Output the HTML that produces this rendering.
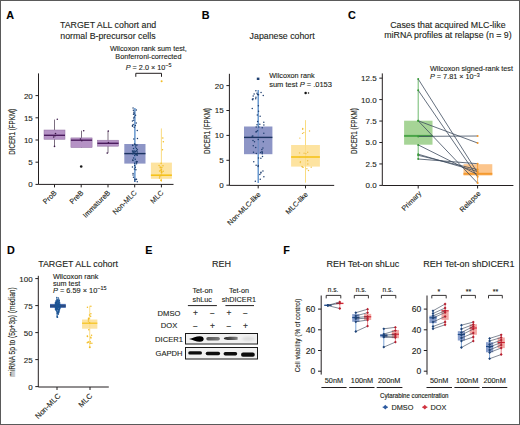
<!DOCTYPE html>
<html><head><meta charset="utf-8"><style>
html,body{margin:0;padding:0;background:#fff;width:520px;height:425px;overflow:hidden;}
svg{display:block;}
text{font-family:"Liberation Sans", sans-serif;stroke:#231f20;stroke-width:0.12px;}
</style></head><body>
<svg width="520" height="425" viewBox="0 0 520 425" font-family="&quot;Liberation Sans&quot;, sans-serif">
<rect x="0.00" y="0.00" width="520.00" height="425.00" fill="#ffffff" />
<text x="6.30" y="18.80" font-size="10.8" text-anchor="start" font-weight="bold" fill="#000" >A</text>
<text x="201.80" y="18.80" font-size="10.8" text-anchor="start" font-weight="bold" fill="#000" >B</text>
<text x="348.00" y="19.10" font-size="10.8" text-anchor="start" font-weight="bold" fill="#000" >C</text>
<text x="6.90" y="253.80" font-size="10.8" text-anchor="start" font-weight="bold" fill="#000" >D</text>
<text x="145.30" y="253.50" font-size="10.8" text-anchor="start" font-weight="bold" fill="#000" >E</text>
<text x="283.30" y="253.90" font-size="10.8" text-anchor="start" font-weight="bold" fill="#000" >F</text>
<text x="60.00" y="28.30" font-size="8.8" text-anchor="start" font-weight="normal" fill="#231f20" >TARGET ALL cohort and</text>
<text x="60.30" y="38.90" font-size="8.8" text-anchor="start" font-weight="normal" fill="#231f20" >normal B-precursor cells</text>
<text x="148.40" y="50.80" font-size="7.25" text-anchor="middle" font-weight="normal" fill="#231f20" >Wilcoxon rank sum test,</text>
<text x="148.40" y="59.40" font-size="7.25" text-anchor="middle" font-weight="normal" fill="#231f20" >Bonferroni-corrected</text>
<text x="148.6" y="69.5" font-size="7.25" text-anchor="middle" fill="#231f20"><tspan font-style="italic">P</tspan> = 2.0 × 10<tspan dy="-2.7" font-size="5.4">−5</tspan></text>
<path d="M135.8,76.8 V73.3 H161.5 V76.8" fill="none" stroke="#231f20" stroke-width="1"/>
<line x1="38.50" y1="73.40" x2="38.50" y2="184.40" stroke="#231f20" stroke-width="1" />
<line x1="35.50" y1="184.40" x2="38.50" y2="184.40" stroke="#231f20" stroke-width="1" />
<text x="32.80" y="187.36" font-size="8.0" text-anchor="end" font-weight="normal" fill="#231f20" >0</text>
<line x1="35.50" y1="162.20" x2="38.50" y2="162.20" stroke="#231f20" stroke-width="1" />
<text x="32.80" y="165.16" font-size="8.0" text-anchor="end" font-weight="normal" fill="#231f20" >5</text>
<line x1="35.50" y1="140.00" x2="38.50" y2="140.00" stroke="#231f20" stroke-width="1" />
<text x="32.80" y="142.96" font-size="8.0" text-anchor="end" font-weight="normal" fill="#231f20" >10</text>
<line x1="35.50" y1="117.80" x2="38.50" y2="117.80" stroke="#231f20" stroke-width="1" />
<text x="32.80" y="120.76" font-size="8.0" text-anchor="end" font-weight="normal" fill="#231f20" >15</text>
<line x1="35.50" y1="95.60" x2="38.50" y2="95.60" stroke="#231f20" stroke-width="1" />
<text x="32.80" y="98.56" font-size="8.0" text-anchor="end" font-weight="normal" fill="#231f20" >20</text>
<line x1="38.50" y1="184.40" x2="173.50" y2="184.40" stroke="#231f20" stroke-width="1" />
<line x1="54.50" y1="184.40" x2="54.50" y2="187.40" stroke="#231f20" stroke-width="1" />
<line x1="81.20" y1="184.40" x2="81.20" y2="187.40" stroke="#231f20" stroke-width="1" />
<line x1="108.00" y1="184.40" x2="108.00" y2="187.40" stroke="#231f20" stroke-width="1" />
<line x1="134.70" y1="184.40" x2="134.70" y2="187.40" stroke="#231f20" stroke-width="1" />
<line x1="161.40" y1="184.40" x2="161.40" y2="187.40" stroke="#231f20" stroke-width="1" />
<text transform="translate(57.10,193.30) rotate(-45)" font-size="7.2" text-anchor="end" fill="#231f20">ProB</text>
<text transform="translate(83.80,193.30) rotate(-45)" font-size="7.2" text-anchor="end" fill="#231f20">PreB</text>
<text transform="translate(110.60,193.30) rotate(-45)" font-size="7.2" text-anchor="end" fill="#231f20">ImmatureB</text>
<text transform="translate(137.30,193.30) rotate(-45)" font-size="7.2" text-anchor="end" fill="#231f20">Non-MLC</text>
<text transform="translate(164.00,193.30) rotate(-45)" font-size="7.2" text-anchor="end" fill="#231f20">MLC</text>
<text transform="translate(14.60,131.80) rotate(-90) scale(0.715,1)" font-size="8.7" text-anchor="middle" font-weight="normal" fill="#231f20">DICER1 (FPKM)</text>
<line x1="54.50" y1="119.60" x2="54.50" y2="146.50" stroke="#5a4a60" stroke-width="0.8" />
<rect x="44.00" y="130.00" width="21.00" height="9.30" fill="#b592c5" fill-opacity="1" stroke="#9272a2" stroke-width="0.5"/>
<line x1="44.00" y1="135.30" x2="65.00" y2="135.30" stroke="#4b1b5d" stroke-width="1.4" />
<circle cx="57.30" cy="119.20" r="0.8" fill="#3d1a4a" />
<circle cx="54.50" cy="146.40" r="0.8" fill="#3d1a4a" />
<circle cx="55.50" cy="133.50" r="0.8" fill="#3d1a4a" />
<circle cx="53.70" cy="137.00" r="0.8" fill="#3d1a4a" />
<circle cx="55.00" cy="135.80" r="0.8" fill="#3d1a4a" />
<line x1="81.50" y1="130.70" x2="81.50" y2="147.60" stroke="#5a4a60" stroke-width="0.8" />
<rect x="70.90" y="137.90" width="21.20" height="9.70" fill="#b592c5" fill-opacity="1" stroke="#9272a2" stroke-width="0.5"/>
<line x1="70.90" y1="140.20" x2="92.10" y2="140.20" stroke="#4b1b5d" stroke-width="1.4" />
<circle cx="83.70" cy="130.70" r="0.8" fill="#3d1a4a" />
<circle cx="81.80" cy="140.80" r="0.8" fill="#3d1a4a" />
<circle cx="80.50" cy="139.00" r="0.8" fill="#3d1a4a" />
<circle cx="81.20" cy="166.50" r="1.3" fill="#1a1a1a" />
<line x1="108.00" y1="131.10" x2="108.00" y2="153.10" stroke="#5a4a60" stroke-width="0.8" />
<rect x="97.40" y="140.20" width="21.20" height="6.00" fill="#b592c5" fill-opacity="1" stroke="#9272a2" stroke-width="0.5"/>
<line x1="97.40" y1="143.30" x2="118.60" y2="143.30" stroke="#4b1b5d" stroke-width="1.4" />
<circle cx="108.30" cy="131.10" r="0.8" fill="#3d1a4a" />
<circle cx="107.20" cy="153.10" r="0.8" fill="#3d1a4a" />
<circle cx="108.40" cy="142.50" r="0.8" fill="#3d1a4a" />
<line x1="134.90" y1="108.00" x2="134.90" y2="182.00" stroke="#4d86c6" stroke-width="1.0" />
<rect x="124.30" y="144.00" width="21.20" height="19.60" fill="#8d95c6" fill-opacity="1"/>
<line x1="134.90" y1="108.00" x2="134.90" y2="182.00" stroke="#4d86c6" stroke-width="1.0" stroke-opacity="0.6"/>
<line x1="124.30" y1="153.60" x2="145.50" y2="153.60" stroke="#1c3461" stroke-width="1.4" />
<circle cx="135.68" cy="147.02" r="0.75" fill="#1f3f70" />
<circle cx="134.20" cy="127.29" r="0.75" fill="#1f3f70" />
<circle cx="132.49" cy="126.27" r="0.75" fill="#1f3f70" />
<circle cx="132.77" cy="145.40" r="0.75" fill="#1f3f70" />
<circle cx="132.94" cy="160.54" r="0.75" fill="#1f3f70" />
<circle cx="137.23" cy="130.59" r="0.75" fill="#1f3f70" />
<circle cx="137.38" cy="151.93" r="0.75" fill="#1f3f70" />
<circle cx="133.81" cy="138.90" r="0.75" fill="#1f3f70" />
<circle cx="133.90" cy="112.24" r="0.75" fill="#1f3f70" />
<circle cx="135.32" cy="167.25" r="0.75" fill="#1f3f70" />
<circle cx="135.15" cy="151.45" r="0.75" fill="#1f3f70" />
<circle cx="133.37" cy="110.15" r="0.75" fill="#1f3f70" />
<circle cx="133.93" cy="152.55" r="0.75" fill="#1f3f70" />
<circle cx="133.86" cy="153.06" r="0.75" fill="#1f3f70" />
<circle cx="133.57" cy="157.98" r="0.75" fill="#1f3f70" />
<circle cx="136.85" cy="154.50" r="0.75" fill="#1f3f70" />
<circle cx="137.40" cy="149.76" r="0.75" fill="#1f3f70" />
<circle cx="136.24" cy="123.05" r="0.75" fill="#1f3f70" />
<circle cx="132.50" cy="125.60" r="0.75" fill="#1f3f70" />
<circle cx="135.28" cy="159.29" r="0.75" fill="#1f3f70" />
<circle cx="135.92" cy="169.65" r="0.75" fill="#1f3f70" />
<circle cx="134.67" cy="155.60" r="0.75" fill="#1f3f70" />
<circle cx="134.77" cy="181.00" r="0.75" fill="#1f3f70" />
<circle cx="135.95" cy="145.21" r="0.75" fill="#1f3f70" />
<circle cx="136.57" cy="163.86" r="0.75" fill="#1f3f70" />
<circle cx="135.78" cy="151.72" r="0.75" fill="#1f3f70" />
<circle cx="133.17" cy="124.62" r="0.75" fill="#1f3f70" />
<circle cx="136.29" cy="110.12" r="0.75" fill="#1f3f70" />
<circle cx="134.33" cy="116.91" r="0.75" fill="#1f3f70" />
<circle cx="134.64" cy="165.45" r="0.75" fill="#1f3f70" />
<circle cx="136.56" cy="161.67" r="0.75" fill="#1f3f70" />
<circle cx="134.46" cy="169.01" r="0.75" fill="#1f3f70" />
<circle cx="137.28" cy="161.68" r="0.75" fill="#1f3f70" />
<circle cx="133.51" cy="114.34" r="0.75" fill="#1f3f70" />
<circle cx="135.36" cy="125.46" r="0.75" fill="#1f3f70" />
<circle cx="134.48" cy="144.08" r="0.75" fill="#1f3f70" />
<circle cx="137.26" cy="155.33" r="0.75" fill="#1f3f70" />
<circle cx="135.51" cy="154.31" r="0.75" fill="#1f3f70" />
<circle cx="136.98" cy="145.08" r="0.75" fill="#1f3f70" />
<circle cx="136.45" cy="161.49" r="0.75" fill="#1f3f70" />
<circle cx="132.84" cy="151.98" r="0.75" fill="#1f3f70" />
<circle cx="132.65" cy="145.24" r="0.75" fill="#1f3f70" />
<circle cx="134.07" cy="113.84" r="0.75" fill="#1f3f70" />
<circle cx="133.09" cy="108.01" r="0.75" fill="#1f3f70" />
<circle cx="132.43" cy="121.09" r="0.75" fill="#1f3f70" />
<circle cx="133.07" cy="175.05" r="0.75" fill="#1f3f70" />
<circle cx="134.19" cy="150.95" r="0.75" fill="#1f3f70" />
<circle cx="137.46" cy="138.56" r="0.75" fill="#1f3f70" />
<circle cx="132.75" cy="153.68" r="0.75" fill="#1f3f70" />
<circle cx="133.68" cy="120.33" r="0.75" fill="#1f3f70" />
<circle cx="132.42" cy="166.91" r="0.75" fill="#1f3f70" />
<circle cx="133.06" cy="173.51" r="0.75" fill="#1f3f70" />
<circle cx="135.05" cy="144.54" r="0.75" fill="#1f3f70" />
<circle cx="135.92" cy="179.54" r="0.75" fill="#1f3f70" />
<circle cx="133.17" cy="151.33" r="0.75" fill="#1f3f70" />
<circle cx="136.35" cy="154.65" r="0.75" fill="#1f3f70" />
<circle cx="136.52" cy="148.46" r="0.75" fill="#1f3f70" />
<circle cx="136.49" cy="179.35" r="0.75" fill="#1f3f70" />
<circle cx="133.48" cy="177.32" r="0.75" fill="#1f3f70" />
<circle cx="132.45" cy="151.11" r="0.75" fill="#1f3f70" />
<circle cx="133.65" cy="118.06" r="0.75" fill="#1f3f70" />
<circle cx="134.63" cy="163.13" r="0.75" fill="#1f3f70" />
<circle cx="137.27" cy="181.78" r="0.75" fill="#1f3f70" />
<circle cx="133.48" cy="148.41" r="0.75" fill="#1f3f70" />
<circle cx="135.55" cy="115.36" r="0.75" fill="#1f3f70" />
<circle cx="134.79" cy="179.13" r="0.75" fill="#1f3f70" />
<circle cx="132.74" cy="159.99" r="0.75" fill="#1f3f70" />
<circle cx="136.37" cy="162.20" r="0.75" fill="#1f3f70" />
<circle cx="133.23" cy="153.56" r="0.75" fill="#1f3f70" />
<circle cx="136.46" cy="150.65" r="0.75" fill="#1f3f70" />
<line x1="161.40" y1="128.50" x2="161.40" y2="182.00" stroke="#f8d66e" stroke-width="0.7" />
<rect x="150.90" y="162.60" width="21.00" height="16.20" fill="#fde3a0" fill-opacity="1"/>
<line x1="161.40" y1="128.50" x2="161.40" y2="182.00" stroke="#f8d66e" stroke-width="0.7" stroke-opacity="0.6"/>
<line x1="150.90" y1="175.20" x2="171.90" y2="175.20" stroke="#f5c21b" stroke-width="1.6" />
<circle cx="160.93" cy="170.52" r="0.75" fill="#f2bd25" />
<circle cx="159.82" cy="176.77" r="0.75" fill="#f2bd25" />
<circle cx="163.34" cy="141.78" r="0.75" fill="#f2bd25" />
<circle cx="162.97" cy="165.78" r="0.75" fill="#f2bd25" />
<circle cx="160.68" cy="175.49" r="0.75" fill="#f2bd25" />
<circle cx="159.07" cy="165.49" r="0.75" fill="#f2bd25" />
<circle cx="161.53" cy="175.34" r="0.75" fill="#f2bd25" />
<circle cx="163.18" cy="171.24" r="0.75" fill="#f2bd25" />
<circle cx="160.21" cy="167.01" r="0.75" fill="#f2bd25" />
<circle cx="161.81" cy="167.57" r="0.75" fill="#f2bd25" />
<circle cx="159.63" cy="170.96" r="0.75" fill="#f2bd25" />
<circle cx="161.20" cy="169.72" r="0.75" fill="#f2bd25" />
<circle cx="161.02" cy="180.18" r="0.75" fill="#f2bd25" />
<circle cx="161.55" cy="172.53" r="0.75" fill="#f2bd25" />
<circle cx="161.11" cy="163.36" r="0.75" fill="#f2bd25" />
<circle cx="162.84" cy="138.10" r="0.75" fill="#f2bd25" />
<circle cx="162.48" cy="149.84" r="0.75" fill="#f2bd25" />
<circle cx="161.49" cy="169.19" r="0.75" fill="#f2bd25" />
<circle cx="159.51" cy="177.90" r="0.75" fill="#f2bd25" />
<circle cx="160.33" cy="167.72" r="0.75" fill="#f2bd25" />
<circle cx="161.70" cy="172.65" r="0.75" fill="#f2bd25" />
<circle cx="161.13" cy="180.34" r="0.75" fill="#f2bd25" />
<circle cx="161.46" cy="172.61" r="0.75" fill="#f2bd25" />
<circle cx="161.56" cy="171.59" r="0.75" fill="#f2bd25" />
<circle cx="161.60" cy="81.20" r="1.0" fill="#f2bd25" />
<text x="249.60" y="39.30" font-size="8.8" text-anchor="start" font-weight="normal" fill="#231f20" >Japanese cohort</text>
<text x="269.20" y="78.10" font-size="7.25" text-anchor="start" font-weight="normal" fill="#231f20" >Wilcoxon rank</text>
<text x="269.2" y="86.6" font-size="7.5" fill="#231f20">sum test <tspan font-style="italic">P</tspan> = .0153</text>
<line x1="229.40" y1="73.80" x2="229.40" y2="185.40" stroke="#231f20" stroke-width="1" />
<line x1="226.40" y1="185.20" x2="229.40" y2="185.20" stroke="#231f20" stroke-width="1" />
<text x="223.70" y="188.16" font-size="8.0" text-anchor="end" font-weight="normal" fill="#231f20" >0</text>
<line x1="226.40" y1="160.30" x2="229.40" y2="160.30" stroke="#231f20" stroke-width="1" />
<text x="223.70" y="163.26" font-size="8.0" text-anchor="end" font-weight="normal" fill="#231f20" >5</text>
<line x1="226.40" y1="135.40" x2="229.40" y2="135.40" stroke="#231f20" stroke-width="1" />
<text x="223.70" y="138.36" font-size="8.0" text-anchor="end" font-weight="normal" fill="#231f20" >10</text>
<line x1="226.40" y1="110.50" x2="229.40" y2="110.50" stroke="#231f20" stroke-width="1" />
<text x="223.70" y="113.46" font-size="8.0" text-anchor="end" font-weight="normal" fill="#231f20" >15</text>
<line x1="226.40" y1="85.60" x2="229.40" y2="85.60" stroke="#231f20" stroke-width="1" />
<text x="223.70" y="88.56" font-size="8.0" text-anchor="end" font-weight="normal" fill="#231f20" >20</text>
<line x1="229.40" y1="185.40" x2="334.20" y2="185.40" stroke="#231f20" stroke-width="1" />
<line x1="258.20" y1="185.40" x2="258.20" y2="188.40" stroke="#231f20" stroke-width="1" />
<line x1="305.50" y1="185.40" x2="305.50" y2="188.40" stroke="#231f20" stroke-width="1" />
<text transform="translate(261.00,195.00) rotate(-45)" font-size="7.1" text-anchor="end" fill="#231f20">Non-MLC-like</text>
<text transform="translate(308.40,195.00) rotate(-45)" font-size="7.1" text-anchor="end" fill="#231f20">MLC-like</text>
<text transform="translate(209.90,131.00) rotate(-90) scale(0.715,1)" font-size="8.7" text-anchor="middle" font-weight="normal" fill="#231f20">DICER1 (FPKM)</text>
<line x1="258.20" y1="90.00" x2="258.20" y2="183.00" stroke="#4d86c6" stroke-width="1.0" />
<rect x="244.00" y="126.50" width="28.40" height="27.70" fill="#8d95c6" fill-opacity="1"/>
<line x1="258.20" y1="90.00" x2="258.20" y2="183.00" stroke="#4d86c6" stroke-width="1.0" stroke-opacity="0.6"/>
<line x1="244.00" y1="137.40" x2="272.40" y2="137.40" stroke="#1c3461" stroke-width="1.4" />
<circle cx="260.59" cy="152.39" r="0.75" fill="#1f3f70" />
<circle cx="255.32" cy="181.32" r="0.75" fill="#1f3f70" />
<circle cx="262.28" cy="152.44" r="0.75" fill="#1f3f70" />
<circle cx="257.51" cy="94.44" r="0.75" fill="#1f3f70" />
<circle cx="253.08" cy="98.78" r="0.75" fill="#1f3f70" />
<circle cx="262.96" cy="148.06" r="0.75" fill="#1f3f70" />
<circle cx="260.12" cy="116.14" r="0.75" fill="#1f3f70" />
<circle cx="263.81" cy="122.22" r="0.75" fill="#1f3f70" />
<circle cx="256.98" cy="124.77" r="0.75" fill="#1f3f70" />
<circle cx="262.19" cy="153.72" r="0.75" fill="#1f3f70" />
<circle cx="258.39" cy="105.75" r="0.75" fill="#1f3f70" />
<circle cx="256.02" cy="131.88" r="0.75" fill="#1f3f70" />
<circle cx="258.85" cy="127.04" r="0.75" fill="#1f3f70" />
<circle cx="256.18" cy="127.00" r="0.75" fill="#1f3f70" />
<circle cx="252.97" cy="140.59" r="0.75" fill="#1f3f70" />
<circle cx="263.86" cy="176.86" r="0.75" fill="#1f3f70" />
<circle cx="252.68" cy="99.69" r="0.75" fill="#1f3f70" />
<circle cx="253.75" cy="161.84" r="0.75" fill="#1f3f70" />
<circle cx="262.03" cy="151.56" r="0.75" fill="#1f3f70" />
<circle cx="263.23" cy="95.45" r="0.75" fill="#1f3f70" />
<circle cx="253.27" cy="145.76" r="0.75" fill="#1f3f70" />
<circle cx="257.30" cy="115.12" r="0.75" fill="#1f3f70" />
<circle cx="259.81" cy="124.25" r="0.75" fill="#1f3f70" />
<circle cx="262.47" cy="156.43" r="0.75" fill="#1f3f70" />
<circle cx="257.65" cy="121.49" r="0.75" fill="#1f3f70" />
<circle cx="263.32" cy="141.71" r="0.75" fill="#1f3f70" />
<circle cx="258.52" cy="94.72" r="0.75" fill="#1f3f70" />
<circle cx="254.14" cy="93.99" r="0.75" fill="#1f3f70" />
<circle cx="255.94" cy="97.36" r="0.75" fill="#1f3f70" />
<circle cx="255.68" cy="147.39" r="0.75" fill="#1f3f70" />
<circle cx="256.36" cy="131.39" r="0.75" fill="#1f3f70" />
<circle cx="252.38" cy="99.14" r="0.75" fill="#1f3f70" />
<circle cx="254.47" cy="141.65" r="0.75" fill="#1f3f70" />
<circle cx="253.48" cy="152.20" r="0.75" fill="#1f3f70" />
<circle cx="258.14" cy="166.53" r="0.75" fill="#1f3f70" />
<circle cx="258.28" cy="165.40" r="0.75" fill="#1f3f70" />
<circle cx="256.31" cy="153.52" r="0.75" fill="#1f3f70" />
<circle cx="259.83" cy="174.50" r="0.75" fill="#1f3f70" />
<circle cx="252.85" cy="136.06" r="0.75" fill="#1f3f70" />
<circle cx="261.09" cy="92.58" r="0.75" fill="#1f3f70" />
<circle cx="253.21" cy="95.96" r="0.75" fill="#1f3f70" />
<circle cx="260.25" cy="179.25" r="0.75" fill="#1f3f70" />
<circle cx="255.72" cy="98.84" r="0.75" fill="#1f3f70" />
<circle cx="257.55" cy="130.83" r="0.75" fill="#1f3f70" />
<circle cx="263.87" cy="125.11" r="0.75" fill="#1f3f70" />
<circle cx="263.79" cy="133.22" r="0.75" fill="#1f3f70" />
<circle cx="252.21" cy="136.31" r="0.75" fill="#1f3f70" />
<circle cx="258.23" cy="139.55" r="0.75" fill="#1f3f70" />
<circle cx="252.26" cy="108.42" r="0.75" fill="#1f3f70" />
<circle cx="256.99" cy="93.28" r="0.75" fill="#1f3f70" />
<circle cx="255.85" cy="90.82" r="0.75" fill="#1f3f70" />
<circle cx="258.55" cy="111.37" r="0.75" fill="#1f3f70" />
<circle cx="260.79" cy="173.07" r="0.75" fill="#1f3f70" />
<circle cx="256.11" cy="165.30" r="0.75" fill="#1f3f70" />
<circle cx="260.89" cy="158.33" r="0.75" fill="#1f3f70" />
<circle cx="262.22" cy="127.70" r="0.75" fill="#1f3f70" />
<circle cx="261.01" cy="172.19" r="0.75" fill="#1f3f70" />
<circle cx="258.49" cy="158.04" r="0.75" fill="#1f3f70" />
<circle cx="261.86" cy="149.46" r="0.75" fill="#1f3f70" />
<circle cx="262.91" cy="170.94" r="0.75" fill="#1f3f70" />
<rect x="256.8" y="77.6" width="2.6" height="2.4" fill="#1f3f70"/>
<line x1="305.50" y1="120.20" x2="305.50" y2="182.50" stroke="#f8d66e" stroke-width="0.75" />
<rect x="291.10" y="145.00" width="28.80" height="21.60" fill="#fde3a0" fill-opacity="1"/>
<line x1="305.50" y1="120.20" x2="305.50" y2="182.50" stroke="#f8d66e" stroke-width="0.75" stroke-opacity="0.6"/>
<line x1="291.10" y1="157.00" x2="319.90" y2="157.00" stroke="#f5c21b" stroke-width="1.6" />
<circle cx="307.82" cy="163.93" r="0.7" fill="#f0c040" />
<circle cx="299.87" cy="138.11" r="0.7" fill="#f0c040" />
<circle cx="303.83" cy="132.59" r="0.7" fill="#f0c040" />
<circle cx="309.53" cy="130.98" r="0.7" fill="#f0c040" />
<circle cx="307.03" cy="156.84" r="0.7" fill="#f0c040" />
<circle cx="307.67" cy="160.69" r="0.7" fill="#f0c040" />
<circle cx="299.54" cy="152.89" r="0.7" fill="#f0c040" />
<circle cx="308.48" cy="170.47" r="0.7" fill="#f0c040" />
<circle cx="305.92" cy="153.67" r="0.7" fill="#f0c040" />
<circle cx="300.29" cy="162.58" r="0.7" fill="#f0c040" />
<circle cx="302.53" cy="167.00" r="0.7" fill="#f0c040" />
<circle cx="302.69" cy="129.24" r="0.7" fill="#f0c040" />
<circle cx="301.96" cy="166.57" r="0.7" fill="#f0c040" />
<circle cx="311.21" cy="167.17" r="0.7" fill="#f0c040" />
<circle cx="304.09" cy="153.16" r="0.7" fill="#f0c040" />
<circle cx="307.70" cy="152.30" r="0.7" fill="#f0c040" />
<circle cx="306.90" cy="168.72" r="0.7" fill="#f0c040" />
<circle cx="300.43" cy="161.64" r="0.7" fill="#f0c040" />
<circle cx="302.55" cy="133.40" r="0.7" fill="#f0c040" />
<circle cx="303.15" cy="167.36" r="0.7" fill="#f0c040" />
<circle cx="299.65" cy="157.36" r="0.7" fill="#f0c040" />
<circle cx="302.73" cy="128.46" r="0.7" fill="#f0c040" />
<circle cx="305.60" cy="93.00" r="1.25" fill="#111" />
<circle cx="308.50" cy="92.90" r="0.75" fill="#111" />
<text x="390.20" y="28.40" font-size="8.8" text-anchor="start" font-weight="normal" fill="#231f20" >Cases that acquired MLC-like</text>
<text x="384.30" y="38.20" font-size="8.8" text-anchor="start" font-weight="normal" fill="#231f20" >miRNA profiles at relapse (n = 9)</text>
<text x="430.00" y="70.80" font-size="7.25" text-anchor="start" font-weight="normal" fill="#231f20" >Wilcoxon signed-rank test</text>
<text x="430" y="79.2" font-size="7.25" fill="#231f20"><tspan font-style="italic">P</tspan> = 7.81 × 10<tspan dy="-2.7" font-size="5.4">−3</tspan></text>
<line x1="382.30" y1="73.40" x2="382.30" y2="185.50" stroke="#231f20" stroke-width="1" />
<line x1="379.30" y1="185.40" x2="382.30" y2="185.40" stroke="#231f20" stroke-width="1" />
<text x="376.60" y="188.36" font-size="8.0" text-anchor="end" font-weight="normal" fill="#231f20" >0.0</text>
<line x1="379.30" y1="163.95" x2="382.30" y2="163.95" stroke="#231f20" stroke-width="1" />
<text x="376.60" y="166.91" font-size="8.0" text-anchor="end" font-weight="normal" fill="#231f20" >2.5</text>
<line x1="379.30" y1="142.50" x2="382.30" y2="142.50" stroke="#231f20" stroke-width="1" />
<text x="376.60" y="145.46" font-size="8.0" text-anchor="end" font-weight="normal" fill="#231f20" >5.0</text>
<line x1="379.30" y1="121.05" x2="382.30" y2="121.05" stroke="#231f20" stroke-width="1" />
<text x="376.60" y="124.01" font-size="8.0" text-anchor="end" font-weight="normal" fill="#231f20" >7.5</text>
<line x1="379.30" y1="99.60" x2="382.30" y2="99.60" stroke="#231f20" stroke-width="1" />
<text x="376.60" y="102.56" font-size="8.0" text-anchor="end" font-weight="normal" fill="#231f20" >10.0</text>
<line x1="379.30" y1="78.15" x2="382.30" y2="78.15" stroke="#231f20" stroke-width="1" />
<text x="376.60" y="81.11" font-size="8.0" text-anchor="end" font-weight="normal" fill="#231f20" >12.5</text>
<line x1="382.30" y1="185.50" x2="513.40" y2="185.50" stroke="#231f20" stroke-width="1" />
<line x1="418.20" y1="185.50" x2="418.20" y2="188.50" stroke="#231f20" stroke-width="1" />
<line x1="477.60" y1="185.50" x2="477.60" y2="188.50" stroke="#231f20" stroke-width="1" />
<text transform="translate(421.80,194.00) rotate(-45)" font-size="7.1" text-anchor="end" fill="#231f20">Primary</text>
<text transform="translate(481.00,194.00) rotate(-45)" font-size="7.1" text-anchor="end" fill="#231f20">Relapse</text>
<text transform="translate(356.70,131.10) rotate(-90) scale(0.715,1)" font-size="8.7" text-anchor="middle" font-weight="normal" fill="#231f20">DICER1 (FPKM)</text>
<line x1="418.20" y1="79.00" x2="418.20" y2="159.00" stroke="#4aa84a" stroke-width="0.8" />
<rect x="404.10" y="120.70" width="28.40" height="24.00" fill="#a6d496" />
<line x1="404.10" y1="135.90" x2="432.50" y2="135.90" stroke="#4aa548" stroke-width="2" />
<rect x="463.50" y="164.20" width="28.80" height="11.30" fill="#fcc58c" />
<line x1="477.60" y1="163.70" x2="477.60" y2="183.10" stroke="#f0962a" stroke-width="0.8" />
<line x1="463.50" y1="173.80" x2="492.30" y2="173.80" stroke="#f49a30" stroke-width="2" />
<line x1="418.20" y1="79.00" x2="477.60" y2="172.80" stroke="#3d4b5e" stroke-width="0.8" />
<line x1="418.20" y1="90.30" x2="477.60" y2="176.80" stroke="#3d4b5e" stroke-width="0.8" />
<line x1="418.20" y1="120.80" x2="477.60" y2="143.00" stroke="#3d4b5e" stroke-width="0.8" />
<line x1="418.20" y1="120.80" x2="477.60" y2="183.10" stroke="#3d4b5e" stroke-width="0.8" />
<line x1="418.20" y1="136.40" x2="477.60" y2="136.00" stroke="#3d4b5e" stroke-width="0.8" />
<line x1="418.20" y1="144.90" x2="477.60" y2="174.60" stroke="#3d4b5e" stroke-width="0.8" />
<line x1="418.20" y1="154.20" x2="477.60" y2="171.60" stroke="#3d4b5e" stroke-width="0.8" />
<line x1="418.20" y1="155.30" x2="477.60" y2="169.60" stroke="#3d4b5e" stroke-width="0.8" />
<line x1="418.20" y1="159.00" x2="477.60" y2="163.70" stroke="#3d4b5e" stroke-width="0.8" />
<circle cx="418.20" cy="79.00" r="1.0" fill="#3a9a3a" />
<circle cx="418.20" cy="90.30" r="1.0" fill="#3a9a3a" />
<circle cx="418.20" cy="120.80" r="1.0" fill="#3a9a3a" />
<circle cx="418.20" cy="120.80" r="1.0" fill="#3a9a3a" />
<circle cx="418.20" cy="136.40" r="1.0" fill="#3a9a3a" />
<circle cx="418.20" cy="144.90" r="1.0" fill="#3a9a3a" />
<circle cx="418.20" cy="154.20" r="1.0" fill="#3a9a3a" />
<circle cx="418.20" cy="155.30" r="1.0" fill="#3a9a3a" />
<circle cx="418.20" cy="159.00" r="1.0" fill="#3a9a3a" />
<circle cx="477.60" cy="172.80" r="1.0" fill="#f0962a" />
<circle cx="477.60" cy="176.80" r="1.0" fill="#f0962a" />
<circle cx="477.60" cy="143.00" r="1.0" fill="#f0962a" />
<circle cx="477.60" cy="183.10" r="1.0" fill="#f0962a" />
<circle cx="477.60" cy="136.00" r="1.0" fill="#f0962a" />
<circle cx="477.60" cy="174.60" r="1.0" fill="#f0962a" />
<circle cx="477.60" cy="171.60" r="1.0" fill="#f0962a" />
<circle cx="477.60" cy="169.60" r="1.0" fill="#f0962a" />
<circle cx="477.60" cy="163.70" r="1.0" fill="#f0962a" />
<text x="38.20" y="267.20" font-size="8.9" text-anchor="start" font-weight="normal" fill="#231f20" >TARGET ALL cohort</text>
<text x="52.90" y="279.40" font-size="7.25" text-anchor="start" font-weight="normal" fill="#231f20" >Wilcoxon rank</text>
<text x="52.90" y="285.80" font-size="7.25" text-anchor="start" font-weight="normal" fill="#231f20" >sum test</text>
<text x="52.9" y="292.6" font-size="7.4" fill="#231f20"><tspan font-style="italic">P</tspan> = 6.59 × 10<tspan dy="-2.7" font-size="5.4">−15</tspan></text>
<line x1="38.30" y1="275.80" x2="38.30" y2="387.00" stroke="#231f20" stroke-width="1" />
<line x1="35.30" y1="386.60" x2="38.30" y2="386.60" stroke="#231f20" stroke-width="1" />
<text x="32.60" y="389.56" font-size="8.0" text-anchor="end" font-weight="normal" fill="#231f20" >0</text>
<line x1="35.30" y1="359.60" x2="38.30" y2="359.60" stroke="#231f20" stroke-width="1" />
<text x="32.60" y="362.56" font-size="8.0" text-anchor="end" font-weight="normal" fill="#231f20" >25</text>
<line x1="35.30" y1="332.60" x2="38.30" y2="332.60" stroke="#231f20" stroke-width="1" />
<text x="32.60" y="335.56" font-size="8.0" text-anchor="end" font-weight="normal" fill="#231f20" >50</text>
<line x1="35.30" y1="305.60" x2="38.30" y2="305.60" stroke="#231f20" stroke-width="1" />
<text x="32.60" y="308.56" font-size="8.0" text-anchor="end" font-weight="normal" fill="#231f20" >75</text>
<line x1="35.30" y1="278.60" x2="38.30" y2="278.60" stroke="#231f20" stroke-width="1" />
<text x="32.60" y="281.56" font-size="8.0" text-anchor="end" font-weight="normal" fill="#231f20" >100</text>
<line x1="38.30" y1="387.00" x2="108.80" y2="387.00" stroke="#231f20" stroke-width="1" />
<line x1="57.00" y1="387.00" x2="57.00" y2="390.00" stroke="#231f20" stroke-width="1" />
<line x1="90.00" y1="387.00" x2="90.00" y2="390.00" stroke="#231f20" stroke-width="1" />
<text transform="translate(61.00,396.50) rotate(-45)" font-size="7.5" text-anchor="end" fill="#231f20">Non-MLC</text>
<text transform="translate(92.80,396.50) rotate(-45)" font-size="7.5" text-anchor="end" fill="#231f20">MLC</text>
<text transform="translate(14.60,332.00) rotate(-90) scale(0.793,1)" font-size="8.3" text-anchor="middle" font-weight="normal" fill="#231f20">miRNA 5p to (5p+3p) (median)</text>
<rect x="50.00" y="303.90" width="15.80" height="4.00" fill="#4a6eae" />
<line x1="50.00" y1="306.00" x2="65.80" y2="306.00" stroke="#1a3a70" stroke-width="1.3" />
<circle cx="58.36" cy="302.88" r="0.75" fill="#1d5595" />
<circle cx="56.97" cy="299.97" r="0.75" fill="#1d5595" />
<circle cx="57.48" cy="301.09" r="0.75" fill="#1d5595" />
<circle cx="55.70" cy="305.67" r="0.75" fill="#1d5595" />
<circle cx="59.76" cy="308.61" r="0.75" fill="#1d5595" />
<circle cx="59.69" cy="304.30" r="0.75" fill="#1d5595" />
<circle cx="58.67" cy="311.27" r="0.75" fill="#1d5595" />
<circle cx="59.92" cy="306.76" r="0.75" fill="#1d5595" />
<circle cx="56.36" cy="302.74" r="0.75" fill="#1d5595" />
<circle cx="59.77" cy="307.34" r="0.75" fill="#1d5595" />
<circle cx="55.89" cy="307.68" r="0.75" fill="#1d5595" />
<circle cx="57.67" cy="312.09" r="0.75" fill="#1d5595" />
<circle cx="59.05" cy="308.55" r="0.75" fill="#1d5595" />
<circle cx="57.64" cy="305.48" r="0.75" fill="#1d5595" />
<circle cx="56.74" cy="311.63" r="0.75" fill="#1d5595" />
<circle cx="59.08" cy="301.52" r="0.75" fill="#1d5595" />
<circle cx="55.14" cy="305.17" r="0.75" fill="#1d5595" />
<circle cx="57.56" cy="306.29" r="0.75" fill="#1d5595" />
<circle cx="56.11" cy="302.48" r="0.75" fill="#1d5595" />
<circle cx="56.84" cy="307.39" r="0.75" fill="#1d5595" />
<circle cx="55.50" cy="302.65" r="0.75" fill="#1d5595" />
<circle cx="58.14" cy="314.26" r="0.75" fill="#1d5595" />
<circle cx="59.67" cy="307.44" r="0.75" fill="#1d5595" />
<circle cx="58.61" cy="304.23" r="0.75" fill="#1d5595" />
<circle cx="57.06" cy="309.30" r="0.75" fill="#1d5595" />
<circle cx="57.10" cy="303.99" r="0.75" fill="#1d5595" />
<circle cx="57.20" cy="312.34" r="0.75" fill="#1d5595" />
<circle cx="57.24" cy="306.15" r="0.75" fill="#1d5595" />
<circle cx="55.61" cy="305.97" r="0.75" fill="#1d5595" />
<circle cx="59.21" cy="307.63" r="0.75" fill="#1d5595" />
<circle cx="56.44" cy="303.81" r="0.75" fill="#1d5595" />
<circle cx="57.23" cy="316.70" r="0.75" fill="#1d5595" />
<circle cx="57.04" cy="303.22" r="0.75" fill="#1d5595" />
<circle cx="59.88" cy="305.99" r="0.75" fill="#1d5595" />
<circle cx="57.97" cy="312.48" r="0.75" fill="#1d5595" />
<circle cx="58.96" cy="300.61" r="0.75" fill="#1d5595" />
<circle cx="58.30" cy="311.61" r="0.75" fill="#1d5595" />
<circle cx="55.47" cy="304.09" r="0.75" fill="#1d5595" />
<circle cx="58.86" cy="305.64" r="0.75" fill="#1d5595" />
<circle cx="58.12" cy="301.19" r="0.75" fill="#1d5595" />
<circle cx="59.73" cy="305.87" r="0.75" fill="#1d5595" />
<circle cx="55.81" cy="307.62" r="0.75" fill="#1d5595" />
<circle cx="56.80" cy="302.04" r="0.75" fill="#1d5595" />
<circle cx="58.78" cy="306.93" r="0.75" fill="#1d5595" />
<circle cx="58.23" cy="309.73" r="0.75" fill="#1d5595" />
<circle cx="56.61" cy="305.67" r="0.75" fill="#1d5595" />
<circle cx="56.31" cy="301.89" r="0.75" fill="#1d5595" />
<circle cx="55.96" cy="304.58" r="0.75" fill="#1d5595" />
<circle cx="57.59" cy="308.82" r="0.75" fill="#1d5595" />
<circle cx="57.12" cy="315.85" r="0.75" fill="#1d5595" />
<circle cx="57.53" cy="317.20" r="0.75" fill="#1d5595" />
<circle cx="56.84" cy="297.61" r="0.75" fill="#1d5595" />
<circle cx="56.82" cy="306.91" r="0.75" fill="#1d5595" />
<circle cx="55.69" cy="308.08" r="0.75" fill="#1d5595" />
<circle cx="57.95" cy="306.44" r="0.75" fill="#1d5595" />
<circle cx="59.17" cy="309.75" r="0.75" fill="#1d5595" />
<circle cx="57.17" cy="306.19" r="0.75" fill="#1d5595" />
<circle cx="57.69" cy="301.45" r="0.75" fill="#1d5595" />
<circle cx="55.65" cy="303.21" r="0.75" fill="#1d5595" />
<circle cx="56.64" cy="309.12" r="0.75" fill="#1d5595" />
<circle cx="57.62" cy="308.54" r="0.75" fill="#1d5595" />
<circle cx="58.25" cy="305.72" r="0.75" fill="#1d5595" />
<circle cx="56.54" cy="308.29" r="0.75" fill="#1d5595" />
<circle cx="56.43" cy="303.76" r="0.75" fill="#1d5595" />
<circle cx="59.42" cy="302.16" r="0.75" fill="#1d5595" />
<circle cx="59.10" cy="309.14" r="0.75" fill="#1d5595" />
<circle cx="55.29" cy="306.87" r="0.75" fill="#1d5595" />
<circle cx="58.64" cy="305.51" r="0.75" fill="#1d5595" />
<circle cx="57.93" cy="310.33" r="0.75" fill="#1d5595" />
<circle cx="55.41" cy="303.03" r="0.75" fill="#1d5595" />
<circle cx="58.33" cy="298.03" r="0.75" fill="#1d5595" />
<circle cx="58.55" cy="312.83" r="0.75" fill="#1d5595" />
<circle cx="55.99" cy="309.62" r="0.75" fill="#1d5595" />
<circle cx="55.88" cy="305.60" r="0.75" fill="#1d5595" />
<circle cx="58.80" cy="299.30" r="0.75" fill="#1d5595" />
<circle cx="58.70" cy="305.22" r="0.75" fill="#1d5595" />
<circle cx="57.44" cy="301.49" r="0.75" fill="#1d5595" />
<circle cx="57.75" cy="299.95" r="0.75" fill="#1d5595" />
<circle cx="57.00" cy="313.99" r="0.75" fill="#1d5595" />
<circle cx="59.55" cy="308.18" r="0.75" fill="#1d5595" />
<circle cx="55.87" cy="303.81" r="0.75" fill="#1d5595" />
<circle cx="56.51" cy="303.10" r="0.75" fill="#1d5595" />
<circle cx="56.15" cy="301.53" r="0.75" fill="#1d5595" />
<circle cx="56.14" cy="300.82" r="0.75" fill="#1d5595" />
<circle cx="57.25" cy="300.19" r="0.75" fill="#1d5595" />
<circle cx="56.23" cy="305.27" r="0.75" fill="#1d5595" />
<circle cx="56.61" cy="305.66" r="0.75" fill="#1d5595" />
<circle cx="57.40" cy="305.80" r="0.75" fill="#1d5595" />
<circle cx="58.66" cy="312.60" r="0.75" fill="#1d5595" />
<circle cx="57.48" cy="304.51" r="0.75" fill="#1d5595" />
<circle cx="59.89" cy="306.53" r="0.75" fill="#1d5595" />
<circle cx="58.44" cy="309.65" r="0.75" fill="#1d5595" />
<circle cx="57.59" cy="305.86" r="0.75" fill="#1d5595" />
<circle cx="58.46" cy="307.10" r="0.75" fill="#1d5595" />
<circle cx="58.34" cy="303.09" r="0.75" fill="#1d5595" />
<circle cx="59.61" cy="307.91" r="0.75" fill="#1d5595" />
<circle cx="56.79" cy="306.38" r="0.75" fill="#1d5595" />
<circle cx="57.21" cy="307.40" r="0.75" fill="#1d5595" />
<circle cx="59.06" cy="304.94" r="0.75" fill="#1d5595" />
<circle cx="58.68" cy="303.41" r="0.75" fill="#1d5595" />
<circle cx="59.66" cy="303.08" r="0.75" fill="#1d5595" />
<circle cx="56.66" cy="306.10" r="0.75" fill="#1d5595" />
<circle cx="56.26" cy="307.62" r="0.75" fill="#1d5595" />
<circle cx="58.75" cy="303.18" r="0.75" fill="#1d5595" />
<circle cx="57.58" cy="303.04" r="0.75" fill="#1d5595" />
<circle cx="57.13" cy="317.08" r="0.75" fill="#1d5595" />
<circle cx="58.41" cy="307.00" r="0.75" fill="#1d5595" />
<circle cx="59.18" cy="310.91" r="0.75" fill="#1d5595" />
<circle cx="56.35" cy="308.99" r="0.75" fill="#1d5595" />
<circle cx="59.50" cy="309.86" r="0.75" fill="#1d5595" />
<circle cx="55.44" cy="307.14" r="0.75" fill="#1d5595" />
<circle cx="57.08" cy="307.37" r="0.75" fill="#1d5595" />
<circle cx="58.13" cy="313.85" r="0.75" fill="#1d5595" />
<circle cx="59.22" cy="300.50" r="0.75" fill="#1d5595" />
<circle cx="56.35" cy="309.94" r="0.75" fill="#1d5595" />
<circle cx="59.70" cy="304.49" r="0.75" fill="#1d5595" />
<circle cx="58.42" cy="306.17" r="0.75" fill="#1d5595" />
<circle cx="57.00" cy="305.03" r="0.75" fill="#1d5595" />
<circle cx="56.12" cy="303.30" r="0.75" fill="#1d5595" />
<circle cx="55.46" cy="309.14" r="0.75" fill="#1d5595" />
<circle cx="59.87" cy="305.40" r="0.75" fill="#1d5595" />
<circle cx="56.19" cy="310.41" r="0.75" fill="#1d5595" />
<circle cx="56.99" cy="309.26" r="0.75" fill="#1d5595" />
<circle cx="59.20" cy="305.50" r="0.75" fill="#1d5595" />
<circle cx="55.53" cy="308.34" r="0.75" fill="#1d5595" />
<circle cx="57.50" cy="301.80" r="0.75" fill="#1d5595" />
<circle cx="56.80" cy="299.00" r="0.75" fill="#1d5595" />
<circle cx="57.28" cy="313.61" r="0.75" fill="#1d5595" />
<circle cx="57.16" cy="307.11" r="0.75" fill="#1d5595" />
<circle cx="59.15" cy="305.51" r="0.75" fill="#1d5595" />
<line x1="89.70" y1="305.80" x2="89.70" y2="347.20" stroke="#f8d66e" stroke-width="0.6" />
<rect x="82.05" y="319.50" width="15.30" height="9.20" fill="#fde3a0" fill-opacity="1"/>
<line x1="89.70" y1="305.80" x2="89.70" y2="347.20" stroke="#f8d66e" stroke-width="0.6" stroke-opacity="0.6"/>
<line x1="82.05" y1="323.20" x2="97.35" y2="323.20" stroke="#f5c21b" stroke-width="1.2" />
<circle cx="87.30" cy="335.90" r="0.75" fill="#f2bd25" />
<circle cx="87.41" cy="307.36" r="0.75" fill="#f2bd25" />
<circle cx="88.39" cy="341.88" r="0.75" fill="#f2bd25" />
<circle cx="91.59" cy="335.14" r="0.75" fill="#f2bd25" />
<circle cx="88.46" cy="319.22" r="0.75" fill="#f2bd25" />
<circle cx="90.18" cy="343.35" r="0.75" fill="#f2bd25" />
<circle cx="90.68" cy="316.22" r="0.75" fill="#f2bd25" />
<circle cx="88.48" cy="318.34" r="0.75" fill="#f2bd25" />
<circle cx="90.88" cy="306.15" r="0.75" fill="#f2bd25" />
<circle cx="90.27" cy="341.74" r="0.75" fill="#f2bd25" />
<circle cx="87.22" cy="342.79" r="0.75" fill="#f2bd25" />
<circle cx="89.48" cy="315.12" r="0.75" fill="#f2bd25" />
<circle cx="91.87" cy="343.31" r="0.75" fill="#f2bd25" />
<circle cx="88.36" cy="321.07" r="0.75" fill="#f2bd25" />
<circle cx="89.57" cy="322.77" r="0.75" fill="#f2bd25" />
<circle cx="88.01" cy="342.20" r="0.75" fill="#f2bd25" />
<circle cx="90.79" cy="337.30" r="0.75" fill="#f2bd25" />
<circle cx="90.96" cy="338.09" r="0.75" fill="#f2bd25" />
<circle cx="88.74" cy="329.68" r="0.75" fill="#f2bd25" />
<circle cx="88.91" cy="318.46" r="0.75" fill="#f2bd25" />
<circle cx="87.50" cy="336.51" r="0.75" fill="#f2bd25" />
<circle cx="90.86" cy="313.70" r="0.75" fill="#f2bd25" />
<circle cx="89.80" cy="347.20" r="1.0" fill="#f2bd25" />
<text x="212.00" y="267.40" font-size="9.0" text-anchor="start" font-weight="normal" fill="#231f20" >REH</text>
<text x="202.50" y="293.40" font-size="7.25" text-anchor="middle" font-weight="normal" fill="#231f20" >Tet-on</text>
<text x="202.20" y="302.00" font-size="7.25" text-anchor="middle" font-weight="normal" fill="#231f20" >shLuc</text>
<line x1="187.90" y1="305.60" x2="216.90" y2="305.60" stroke="#231f20" stroke-width="1" />
<text x="239.00" y="293.40" font-size="7.25" text-anchor="middle" font-weight="normal" fill="#231f20" >Tet-on</text>
<text x="238.80" y="302.00" font-size="7.25" text-anchor="middle" font-weight="normal" fill="#231f20" >shDICER1</text>
<line x1="225.40" y1="305.60" x2="254.00" y2="305.60" stroke="#231f20" stroke-width="1" />
<text x="169.00" y="316.20" font-size="7.6" text-anchor="middle" font-weight="normal" fill="#231f20" >DMSO</text>
<text x="169.00" y="327.70" font-size="7.6" text-anchor="middle" font-weight="normal" fill="#231f20" >DOX</text>
<text x="169.00" y="341.50" font-size="7.6" text-anchor="middle" font-weight="normal" fill="#231f20" >DICER1</text>
<text x="169.00" y="356.10" font-size="7.6" text-anchor="middle" font-weight="normal" fill="#231f20" >GAPDH</text>
<text x="195.40" y="316.30" font-size="8.4" text-anchor="middle" font-weight="normal" fill="#231f20" >+</text>
<text x="195.40" y="329.30" font-size="8.4" text-anchor="middle" font-weight="normal" fill="#231f20" >−</text>
<text x="212.40" y="316.30" font-size="8.4" text-anchor="middle" font-weight="normal" fill="#231f20" >−</text>
<text x="212.40" y="329.30" font-size="8.4" text-anchor="middle" font-weight="normal" fill="#231f20" >+</text>
<text x="229.00" y="316.30" font-size="8.4" text-anchor="middle" font-weight="normal" fill="#231f20" >+</text>
<text x="229.00" y="329.30" font-size="8.4" text-anchor="middle" font-weight="normal" fill="#231f20" >−</text>
<text x="245.40" y="316.30" font-size="8.4" text-anchor="middle" font-weight="normal" fill="#231f20" >−</text>
<text x="245.40" y="329.30" font-size="8.4" text-anchor="middle" font-weight="normal" fill="#231f20" >+</text>
<defs>
<filter id="bl" x="-20%" y="-80%" width="140%" height="260%"><feGaussianBlur stdDeviation="0.6"/></filter>
<filter id="bl2" x="-20%" y="-80%" width="140%" height="260%"><feGaussianBlur stdDeviation="0.9"/></filter>
<linearGradient id="l3" x1="0" x2="1" y1="0" y2="0"><stop offset="0" stop-color="#2a2a2a"/><stop offset="0.5" stop-color="#505050"/><stop offset="1" stop-color="#858585"/></linearGradient>
<linearGradient id="l2" x1="0" x2="1" y1="0" y2="0"><stop offset="0" stop-color="#555"/><stop offset="1" stop-color="#7a7a7a"/></linearGradient>
</defs>
<rect x="185.50" y="333.50" width="72.00" height="10.50" fill="#f1f1f1" stroke="#1a1a1a" stroke-width="1"/>
<g filter="url(#bl)">
<path d="M189.0,339 C193,338.0 196,336.2 199.8,336.2 C202.6,336.2 203.7,337.6 203.7,339 C203.7,340.5 202.6,341.8 199.8,341.8 C196,341.8 193,340.0 189.0,339 Z" fill="#050505"/>
<rect x="206.3" y="337.0" width="13.6" height="3.6" rx="1.8" fill="url(#l2)"/>
<path d="M223.8,338.4 C224.2,336.6 233,336.6 237.6,337.0 L237.6,339.8 C233,340.3 224.2,340.3 223.8,338.4 Z" fill="url(#l3)"/>
</g>
<g filter="url(#bl2)"><ellipse cx="248.4" cy="338.8" rx="6.6" ry="2.0" fill="#dcdcdc"/></g>
<rect x="185.50" y="347.50" width="72.00" height="11.50" fill="#f1f1f1" stroke="#1a1a1a" stroke-width="1"/>
<g filter="url(#bl)">
<rect x="188.2" y="351.2" width="13.800000000000011" height="3.4" rx="1.7" fill="#0c0c0c"/>
<rect x="205.7" y="351.85" width="14.400000000000006" height="3.5" rx="1.75" fill="#0c0c0c"/>
<rect x="223.6" y="352.0" width="13.599999999999994" height="3.4" rx="1.7" fill="#0c0c0c"/>
<rect x="241.0" y="352.59999999999997" width="13.800000000000011" height="4.2" rx="2.1" fill="#0c0c0c"/>
</g>
<text x="326.40" y="267.40" font-size="9.0" text-anchor="start" font-weight="normal" fill="#231f20" >REH Tet-on shLuc</text>
<text x="423.20" y="267.40" font-size="9.0" text-anchor="start" font-weight="normal" fill="#231f20" >REH Tet-on shDICER1</text>
<line x1="321.20" y1="295.50" x2="321.20" y2="374.60" stroke="#231f20" stroke-width="1" />
<line x1="318.00" y1="371.20" x2="321.20" y2="371.20" stroke="#231f20" stroke-width="1" />
<text x="315.40" y="374.38" font-size="8.6" text-anchor="end" font-weight="normal" fill="#231f20" >0</text>
<line x1="318.00" y1="350.50" x2="321.20" y2="350.50" stroke="#231f20" stroke-width="1" />
<text x="315.40" y="353.68" font-size="8.6" text-anchor="end" font-weight="normal" fill="#231f20" >20</text>
<line x1="318.00" y1="329.80" x2="321.20" y2="329.80" stroke="#231f20" stroke-width="1" />
<text x="315.40" y="332.98" font-size="8.6" text-anchor="end" font-weight="normal" fill="#231f20" >40</text>
<line x1="318.00" y1="309.10" x2="321.20" y2="309.10" stroke="#231f20" stroke-width="1" />
<text x="315.40" y="312.28" font-size="8.6" text-anchor="end" font-weight="normal" fill="#231f20" >60</text>
<line x1="427.00" y1="295.50" x2="427.00" y2="374.60" stroke="#231f20" stroke-width="1" />
<line x1="423.80" y1="371.20" x2="427.00" y2="371.20" stroke="#231f20" stroke-width="1" />
<text x="421.20" y="374.38" font-size="8.6" text-anchor="end" font-weight="normal" fill="#231f20" >0</text>
<line x1="423.80" y1="350.50" x2="427.00" y2="350.50" stroke="#231f20" stroke-width="1" />
<text x="421.20" y="353.68" font-size="8.6" text-anchor="end" font-weight="normal" fill="#231f20" >20</text>
<line x1="423.80" y1="329.80" x2="427.00" y2="329.80" stroke="#231f20" stroke-width="1" />
<text x="421.20" y="332.98" font-size="8.6" text-anchor="end" font-weight="normal" fill="#231f20" >40</text>
<line x1="423.80" y1="309.10" x2="427.00" y2="309.10" stroke="#231f20" stroke-width="1" />
<text x="421.20" y="312.28" font-size="8.6" text-anchor="end" font-weight="normal" fill="#231f20" >60</text>
<text transform="translate(299.90,335.40) rotate(-90) scale(0.835,1)" font-size="7.7" text-anchor="middle" font-weight="normal" fill="#231f20">Cell viability (% of control)</text>
<line x1="321.40" y1="387.50" x2="346.60" y2="387.50" stroke="#231f20" stroke-width="1" />
<text x="333.90" y="382.60" font-size="7.3" text-anchor="middle" font-weight="normal" fill="#231f20" >50nM</text>
<line x1="349.20" y1="387.50" x2="374.50" y2="387.50" stroke="#231f20" stroke-width="1" />
<text x="362.00" y="382.60" font-size="7.3" text-anchor="middle" font-weight="normal" fill="#231f20" >100nM</text>
<line x1="376.70" y1="387.50" x2="402.40" y2="387.50" stroke="#231f20" stroke-width="1" />
<text x="389.20" y="382.60" font-size="7.3" text-anchor="middle" font-weight="normal" fill="#231f20" >200nM</text>
<line x1="426.50" y1="387.50" x2="452.00" y2="387.50" stroke="#231f20" stroke-width="1" />
<text x="439.20" y="382.60" font-size="7.3" text-anchor="middle" font-weight="normal" fill="#231f20" >50nM</text>
<line x1="454.40" y1="387.50" x2="479.60" y2="387.50" stroke="#231f20" stroke-width="1" />
<text x="467.10" y="382.60" font-size="7.3" text-anchor="middle" font-weight="normal" fill="#231f20" >100nM</text>
<line x1="482.00" y1="387.50" x2="507.30" y2="387.50" stroke="#231f20" stroke-width="1" />
<text x="494.60" y="382.60" font-size="7.3" text-anchor="middle" font-weight="normal" fill="#231f20" >200nM</text>
<text transform="translate(414.3,398.1) scale(0.80,1)" font-size="7.7" font-weight="normal" text-anchor="middle" fill="#231f20" style="stroke-width:0.18px">Cytarabine concentration</text>
<path d="M385.3,404.8 L387.6,407.2 L385.3,409.6 L383.0,407.2 Z" fill="#2d5aa0"/>
<line x1="382.60" y1="407.20" x2="388.00" y2="407.20" stroke="#2d5aa0" stroke-width="0.9" />
<text x="391.50" y="409.60" font-size="7.3" text-anchor="start" font-weight="normal" fill="#231f20" >DMSO</text>
<path d="M424.8,404.8 L427.1,407.2 L424.8,409.6 L422.5,407.2 Z" fill="#d0323f"/>
<line x1="422.10" y1="407.20" x2="427.50" y2="407.20" stroke="#d0323f" stroke-width="0.9" />
<text x="430.60" y="409.60" font-size="7.3" text-anchor="start" font-weight="normal" fill="#231f20" >DOX</text>
<path d="M326.2,298.4 V295.4 H340.8 V298.4" fill="none" stroke="#231f20" stroke-width="0.9"/>
<path d="M354.3,298.4 V295.4 H368.4 V298.4" fill="none" stroke="#231f20" stroke-width="0.9"/>
<path d="M381.4,298.4 V295.4 H395.8 V298.4" fill="none" stroke="#231f20" stroke-width="0.9"/>
<path d="M431.8,298.4 V295.4 H446.2 V298.4" fill="none" stroke="#231f20" stroke-width="0.9"/>
<path d="M461.4,298.4 V295.4 H475.4 V298.4" fill="none" stroke="#231f20" stroke-width="0.9"/>
<path d="M488.5,298.4 V295.4 H502.3 V298.4" fill="none" stroke="#231f20" stroke-width="0.9"/>
<text x="333.10" y="292.10" font-size="6.6" text-anchor="middle" font-weight="normal" fill="#231f20" >n.s.</text>
<text x="361.00" y="292.10" font-size="6.6" text-anchor="middle" font-weight="normal" fill="#231f20" >n.s.</text>
<text x="387.90" y="292.10" font-size="6.6" text-anchor="middle" font-weight="normal" fill="#231f20" >n.s.</text>
<text x="438.90" y="294.20" font-size="7" text-anchor="middle" font-weight="normal" fill="#231f20" >*</text>
<text x="468.40" y="294.20" font-size="7" text-anchor="middle" font-weight="normal" fill="#231f20" >**</text>
<text x="495.50" y="294.20" font-size="7" text-anchor="middle" font-weight="normal" fill="#231f20" >**</text>
<line x1="327.90" y1="305.30" x2="327.90" y2="305.60" stroke="#5b8ccc" stroke-width="0.8" />
<rect x="324.30" y="304.60" width="7.20" height="1.40" fill="#7b93c6" fill-opacity="0.9"/>
<line x1="324.30" y1="305.30" x2="331.50" y2="305.30" stroke="#1d4a88" stroke-width="1.1" />
<line x1="339.80" y1="302.00" x2="339.80" y2="308.50" stroke="#e06a70" stroke-width="0.8" />
<rect x="336.20" y="302.60" width="7.20" height="1.60" fill="#f2a09b" fill-opacity="0.9"/>
<line x1="336.20" y1="303.40" x2="343.40" y2="303.40" stroke="#d02030" stroke-width="1.1" />
<line x1="327.90" y1="305.30" x2="339.80" y2="302.00" stroke="#2e3a50" stroke-width="0.6" />
<line x1="327.90" y1="305.30" x2="339.80" y2="303.40" stroke="#2e3a50" stroke-width="0.6" />
<line x1="327.90" y1="305.60" x2="339.80" y2="308.50" stroke="#2e3a50" stroke-width="0.6" />
<path d="M327.9,303.90000000000003 L329.29999999999995,305.3 L327.9,306.7 L326.5,305.3 Z" fill="#1d4378"/>
<path d="M327.9,303.90000000000003 L329.29999999999995,305.3 L327.9,306.7 L326.5,305.3 Z" fill="#1d4378"/>
<path d="M327.9,304.20000000000005 L329.29999999999995,305.6 L327.9,307.0 L326.5,305.6 Z" fill="#1d4378"/>
<path d="M339.8,300.6 L341.2,302 L339.8,303.4 L338.40000000000003,302 Z" fill="#b81d2d"/>
<path d="M339.8,302.0 L341.2,303.4 L339.8,304.79999999999995 L338.40000000000003,303.4 Z" fill="#b81d2d"/>
<path d="M339.8,307.1 L341.2,308.5 L339.8,309.9 L338.40000000000003,308.5 Z" fill="#b81d2d"/>
<line x1="355.80" y1="312.70" x2="355.80" y2="331.50" stroke="#5b8ccc" stroke-width="0.8" />
<rect x="352.20" y="314.10" width="7.20" height="7.70" fill="#7b93c6" fill-opacity="0.9"/>
<line x1="352.20" y1="317.60" x2="359.40" y2="317.60" stroke="#1d4a88" stroke-width="1.1" />
<line x1="367.60" y1="309.20" x2="367.60" y2="326.10" stroke="#e06a70" stroke-width="0.8" />
<rect x="364.00" y="313.90" width="7.20" height="6.10" fill="#f2a09b" fill-opacity="0.9"/>
<line x1="364.00" y1="316.80" x2="371.20" y2="316.80" stroke="#d02030" stroke-width="1.1" />
<line x1="355.80" y1="312.70" x2="367.60" y2="309.20" stroke="#2e3a50" stroke-width="0.6" />
<line x1="355.80" y1="315.90" x2="367.60" y2="312.70" stroke="#2e3a50" stroke-width="0.6" />
<line x1="355.80" y1="317.60" x2="367.60" y2="316.50" stroke="#2e3a50" stroke-width="0.6" />
<line x1="355.80" y1="318.80" x2="367.60" y2="318.20" stroke="#2e3a50" stroke-width="0.6" />
<line x1="355.80" y1="321.80" x2="367.60" y2="320.00" stroke="#2e3a50" stroke-width="0.6" />
<line x1="355.80" y1="331.50" x2="367.60" y2="326.10" stroke="#2e3a50" stroke-width="0.6" />
<path d="M355.8,311.3 L357.2,312.7 L355.8,314.09999999999997 L354.40000000000003,312.7 Z" fill="#1d4378"/>
<path d="M355.8,314.5 L357.2,315.9 L355.8,317.29999999999995 L354.40000000000003,315.9 Z" fill="#1d4378"/>
<path d="M355.8,316.20000000000005 L357.2,317.6 L355.8,319.0 L354.40000000000003,317.6 Z" fill="#1d4378"/>
<path d="M355.8,317.40000000000003 L357.2,318.8 L355.8,320.2 L354.40000000000003,318.8 Z" fill="#1d4378"/>
<path d="M355.8,320.40000000000003 L357.2,321.8 L355.8,323.2 L354.40000000000003,321.8 Z" fill="#1d4378"/>
<path d="M355.8,330.1 L357.2,331.5 L355.8,332.9 L354.40000000000003,331.5 Z" fill="#1d4378"/>
<path d="M367.6,307.8 L369.0,309.2 L367.6,310.59999999999997 L366.20000000000005,309.2 Z" fill="#b81d2d"/>
<path d="M367.6,311.3 L369.0,312.7 L367.6,314.09999999999997 L366.20000000000005,312.7 Z" fill="#b81d2d"/>
<path d="M367.6,315.1 L369.0,316.5 L367.6,317.9 L366.20000000000005,316.5 Z" fill="#b81d2d"/>
<path d="M367.6,316.8 L369.0,318.2 L367.6,319.59999999999997 L366.20000000000005,318.2 Z" fill="#b81d2d"/>
<path d="M367.6,318.6 L369.0,320 L367.6,321.4 L366.20000000000005,320 Z" fill="#b81d2d"/>
<path d="M367.6,324.70000000000005 L369.0,326.1 L367.6,327.5 L366.20000000000005,326.1 Z" fill="#b81d2d"/>
<line x1="383.80" y1="328.80" x2="383.80" y2="347.10" stroke="#5b8ccc" stroke-width="0.8" />
<rect x="380.20" y="334.10" width="7.20" height="3.30" fill="#7b93c6" fill-opacity="0.9"/>
<line x1="380.20" y1="335.30" x2="387.40" y2="335.30" stroke="#1d4a88" stroke-width="1.1" />
<line x1="395.40" y1="327.30" x2="395.40" y2="342.10" stroke="#e06a70" stroke-width="0.8" />
<rect x="391.80" y="330.00" width="7.20" height="8.20" fill="#f2a09b" fill-opacity="0.9"/>
<line x1="391.80" y1="334.20" x2="399.00" y2="334.20" stroke="#d02030" stroke-width="1.1" />
<line x1="383.80" y1="328.80" x2="395.40" y2="327.30" stroke="#2e3a50" stroke-width="0.6" />
<line x1="383.80" y1="334.10" x2="395.40" y2="330.60" stroke="#2e3a50" stroke-width="0.6" />
<line x1="383.80" y1="335.30" x2="395.40" y2="334.10" stroke="#2e3a50" stroke-width="0.6" />
<line x1="383.80" y1="336.50" x2="395.40" y2="336.00" stroke="#2e3a50" stroke-width="0.6" />
<line x1="383.80" y1="337.20" x2="395.40" y2="337.60" stroke="#2e3a50" stroke-width="0.6" />
<line x1="383.80" y1="347.10" x2="395.40" y2="342.10" stroke="#2e3a50" stroke-width="0.6" />
<path d="M383.8,327.40000000000003 L385.2,328.8 L383.8,330.2 L382.40000000000003,328.8 Z" fill="#1d4378"/>
<path d="M383.8,332.70000000000005 L385.2,334.1 L383.8,335.5 L382.40000000000003,334.1 Z" fill="#1d4378"/>
<path d="M383.8,333.90000000000003 L385.2,335.3 L383.8,336.7 L382.40000000000003,335.3 Z" fill="#1d4378"/>
<path d="M383.8,335.1 L385.2,336.5 L383.8,337.9 L382.40000000000003,336.5 Z" fill="#1d4378"/>
<path d="M383.8,335.8 L385.2,337.2 L383.8,338.59999999999997 L382.40000000000003,337.2 Z" fill="#1d4378"/>
<path d="M383.8,345.70000000000005 L385.2,347.1 L383.8,348.5 L382.40000000000003,347.1 Z" fill="#1d4378"/>
<path d="M395.4,325.90000000000003 L396.79999999999995,327.3 L395.4,328.7 L394.0,327.3 Z" fill="#b81d2d"/>
<path d="M395.4,329.20000000000005 L396.79999999999995,330.6 L395.4,332.0 L394.0,330.6 Z" fill="#b81d2d"/>
<path d="M395.4,332.70000000000005 L396.79999999999995,334.1 L395.4,335.5 L394.0,334.1 Z" fill="#b81d2d"/>
<path d="M395.4,334.6 L396.79999999999995,336 L395.4,337.4 L394.0,336 Z" fill="#b81d2d"/>
<path d="M395.4,336.20000000000005 L396.79999999999995,337.6 L395.4,339.0 L394.0,337.6 Z" fill="#b81d2d"/>
<path d="M395.4,340.70000000000005 L396.79999999999995,342.1 L395.4,343.5 L394.0,342.1 Z" fill="#b81d2d"/>
<line x1="433.00" y1="310.80" x2="433.00" y2="328.80" stroke="#5b8ccc" stroke-width="0.8" />
<rect x="429.40" y="315.70" width="7.20" height="7.40" fill="#7b93c6" fill-opacity="0.9"/>
<line x1="429.40" y1="317.80" x2="436.60" y2="317.80" stroke="#1d4a88" stroke-width="1.1" />
<line x1="445.10" y1="304.00" x2="445.10" y2="324.80" stroke="#e06a70" stroke-width="0.8" />
<rect x="441.50" y="310.40" width="7.20" height="9.50" fill="#f2a09b" fill-opacity="0.9"/>
<line x1="441.50" y1="310.80" x2="448.70" y2="310.80" stroke="#d02030" stroke-width="1.1" />
<line x1="433.00" y1="310.80" x2="445.10" y2="304.00" stroke="#2e3a50" stroke-width="0.6" />
<line x1="433.00" y1="313.50" x2="445.10" y2="308.00" stroke="#2e3a50" stroke-width="0.6" />
<line x1="433.00" y1="315.80" x2="445.10" y2="310.80" stroke="#2e3a50" stroke-width="0.6" />
<line x1="433.00" y1="318.00" x2="445.10" y2="312.50" stroke="#2e3a50" stroke-width="0.6" />
<line x1="433.00" y1="322.00" x2="445.10" y2="316.50" stroke="#2e3a50" stroke-width="0.6" />
<line x1="433.00" y1="326.50" x2="445.10" y2="322.00" stroke="#2e3a50" stroke-width="0.6" />
<line x1="433.00" y1="328.80" x2="445.10" y2="324.80" stroke="#2e3a50" stroke-width="0.6" />
<path d="M433,309.40000000000003 L434.4,310.8 L433,312.2 L431.6,310.8 Z" fill="#1d4378"/>
<path d="M433,312.1 L434.4,313.5 L433,314.9 L431.6,313.5 Z" fill="#1d4378"/>
<path d="M433,314.40000000000003 L434.4,315.8 L433,317.2 L431.6,315.8 Z" fill="#1d4378"/>
<path d="M433,316.6 L434.4,318 L433,319.4 L431.6,318 Z" fill="#1d4378"/>
<path d="M433,320.6 L434.4,322 L433,323.4 L431.6,322 Z" fill="#1d4378"/>
<path d="M433,325.1 L434.4,326.5 L433,327.9 L431.6,326.5 Z" fill="#1d4378"/>
<path d="M433,327.40000000000003 L434.4,328.8 L433,330.2 L431.6,328.8 Z" fill="#1d4378"/>
<path d="M445.1,302.6 L446.5,304 L445.1,305.4 L443.70000000000005,304 Z" fill="#b81d2d"/>
<path d="M445.1,306.6 L446.5,308 L445.1,309.4 L443.70000000000005,308 Z" fill="#b81d2d"/>
<path d="M445.1,309.40000000000003 L446.5,310.8 L445.1,312.2 L443.70000000000005,310.8 Z" fill="#b81d2d"/>
<path d="M445.1,311.1 L446.5,312.5 L445.1,313.9 L443.70000000000005,312.5 Z" fill="#b81d2d"/>
<path d="M445.1,315.1 L446.5,316.5 L445.1,317.9 L443.70000000000005,316.5 Z" fill="#b81d2d"/>
<path d="M445.1,320.6 L446.5,322 L445.1,323.4 L443.70000000000005,322 Z" fill="#b81d2d"/>
<path d="M445.1,323.40000000000003 L446.5,324.8 L445.1,326.2 L443.70000000000005,324.8 Z" fill="#b81d2d"/>
<line x1="461.40" y1="325.20" x2="461.40" y2="347.50" stroke="#5b8ccc" stroke-width="0.8" />
<rect x="457.80" y="331.20" width="7.20" height="9.30" fill="#7b93c6" fill-opacity="0.9"/>
<line x1="457.80" y1="334.50" x2="465.00" y2="334.50" stroke="#1d4a88" stroke-width="1.1" />
<line x1="473.30" y1="322.10" x2="473.30" y2="341.10" stroke="#e06a70" stroke-width="0.8" />
<rect x="469.70" y="324.20" width="7.20" height="10.60" fill="#f2a09b" fill-opacity="0.9"/>
<line x1="469.70" y1="328.00" x2="476.90" y2="328.00" stroke="#d02030" stroke-width="1.1" />
<line x1="461.40" y1="325.20" x2="473.30" y2="322.10" stroke="#2e3a50" stroke-width="0.6" />
<line x1="461.40" y1="329.00" x2="473.30" y2="324.50" stroke="#2e3a50" stroke-width="0.6" />
<line x1="461.40" y1="332.50" x2="473.30" y2="326.50" stroke="#2e3a50" stroke-width="0.6" />
<line x1="461.40" y1="335.00" x2="473.30" y2="329.00" stroke="#2e3a50" stroke-width="0.6" />
<line x1="461.40" y1="338.00" x2="473.30" y2="333.00" stroke="#2e3a50" stroke-width="0.6" />
<line x1="461.40" y1="341.00" x2="473.30" y2="337.00" stroke="#2e3a50" stroke-width="0.6" />
<line x1="461.40" y1="347.50" x2="473.30" y2="341.10" stroke="#2e3a50" stroke-width="0.6" />
<path d="M461.4,323.8 L462.79999999999995,325.2 L461.4,326.59999999999997 L460.0,325.2 Z" fill="#1d4378"/>
<path d="M461.4,327.6 L462.79999999999995,329 L461.4,330.4 L460.0,329 Z" fill="#1d4378"/>
<path d="M461.4,331.1 L462.79999999999995,332.5 L461.4,333.9 L460.0,332.5 Z" fill="#1d4378"/>
<path d="M461.4,333.6 L462.79999999999995,335 L461.4,336.4 L460.0,335 Z" fill="#1d4378"/>
<path d="M461.4,336.6 L462.79999999999995,338 L461.4,339.4 L460.0,338 Z" fill="#1d4378"/>
<path d="M461.4,339.6 L462.79999999999995,341 L461.4,342.4 L460.0,341 Z" fill="#1d4378"/>
<path d="M461.4,346.1 L462.79999999999995,347.5 L461.4,348.9 L460.0,347.5 Z" fill="#1d4378"/>
<path d="M473.3,320.70000000000005 L474.7,322.1 L473.3,323.5 L471.90000000000003,322.1 Z" fill="#b81d2d"/>
<path d="M473.3,323.1 L474.7,324.5 L473.3,325.9 L471.90000000000003,324.5 Z" fill="#b81d2d"/>
<path d="M473.3,325.1 L474.7,326.5 L473.3,327.9 L471.90000000000003,326.5 Z" fill="#b81d2d"/>
<path d="M473.3,327.6 L474.7,329 L473.3,330.4 L471.90000000000003,329 Z" fill="#b81d2d"/>
<path d="M473.3,331.6 L474.7,333 L473.3,334.4 L471.90000000000003,333 Z" fill="#b81d2d"/>
<path d="M473.3,335.6 L474.7,337 L473.3,338.4 L471.90000000000003,337 Z" fill="#b81d2d"/>
<path d="M473.3,339.70000000000005 L474.7,341.1 L473.3,342.5 L471.90000000000003,341.1 Z" fill="#b81d2d"/>
<line x1="489.60" y1="338.40" x2="489.60" y2="358.70" stroke="#5b8ccc" stroke-width="0.8" />
<rect x="486.00" y="342.20" width="7.20" height="10.10" fill="#7b93c6" fill-opacity="0.9"/>
<line x1="486.00" y1="346.50" x2="493.20" y2="346.50" stroke="#1d4a88" stroke-width="1.1" />
<line x1="501.20" y1="334.80" x2="501.20" y2="354.50" stroke="#e06a70" stroke-width="0.8" />
<rect x="497.60" y="337.50" width="7.20" height="10.60" fill="#f2a09b" fill-opacity="0.9"/>
<line x1="497.60" y1="342.50" x2="504.80" y2="342.50" stroke="#d02030" stroke-width="1.1" />
<line x1="489.60" y1="338.40" x2="501.20" y2="334.80" stroke="#2e3a50" stroke-width="0.6" />
<line x1="489.60" y1="341.00" x2="501.20" y2="337.50" stroke="#2e3a50" stroke-width="0.6" />
<line x1="489.60" y1="344.50" x2="501.20" y2="340.00" stroke="#2e3a50" stroke-width="0.6" />
<line x1="489.60" y1="347.00" x2="501.20" y2="342.50" stroke="#2e3a50" stroke-width="0.6" />
<line x1="489.60" y1="350.00" x2="501.20" y2="345.00" stroke="#2e3a50" stroke-width="0.6" />
<line x1="489.60" y1="352.50" x2="501.20" y2="348.00" stroke="#2e3a50" stroke-width="0.6" />
<line x1="489.60" y1="358.70" x2="501.20" y2="354.50" stroke="#2e3a50" stroke-width="0.6" />
<path d="M489.6,337.0 L491.0,338.4 L489.6,339.79999999999995 L488.20000000000005,338.4 Z" fill="#1d4378"/>
<path d="M489.6,339.6 L491.0,341 L489.6,342.4 L488.20000000000005,341 Z" fill="#1d4378"/>
<path d="M489.6,343.1 L491.0,344.5 L489.6,345.9 L488.20000000000005,344.5 Z" fill="#1d4378"/>
<path d="M489.6,345.6 L491.0,347 L489.6,348.4 L488.20000000000005,347 Z" fill="#1d4378"/>
<path d="M489.6,348.6 L491.0,350 L489.6,351.4 L488.20000000000005,350 Z" fill="#1d4378"/>
<path d="M489.6,351.1 L491.0,352.5 L489.6,353.9 L488.20000000000005,352.5 Z" fill="#1d4378"/>
<path d="M489.6,357.3 L491.0,358.7 L489.6,360.09999999999997 L488.20000000000005,358.7 Z" fill="#1d4378"/>
<path d="M501.2,333.40000000000003 L502.59999999999997,334.8 L501.2,336.2 L499.8,334.8 Z" fill="#b81d2d"/>
<path d="M501.2,336.1 L502.59999999999997,337.5 L501.2,338.9 L499.8,337.5 Z" fill="#b81d2d"/>
<path d="M501.2,338.6 L502.59999999999997,340 L501.2,341.4 L499.8,340 Z" fill="#b81d2d"/>
<path d="M501.2,341.1 L502.59999999999997,342.5 L501.2,343.9 L499.8,342.5 Z" fill="#b81d2d"/>
<path d="M501.2,343.6 L502.59999999999997,345 L501.2,346.4 L499.8,345 Z" fill="#b81d2d"/>
<path d="M501.2,346.6 L502.59999999999997,348 L501.2,349.4 L499.8,348 Z" fill="#b81d2d"/>
<path d="M501.2,353.1 L502.59999999999997,354.5 L501.2,355.9 L499.8,354.5 Z" fill="#b81d2d"/>
<rect x="0.5" y="0.5" width="519" height="424" fill="none" stroke="#5a5a5a" stroke-width="1"/>
</svg>
</body></html>
